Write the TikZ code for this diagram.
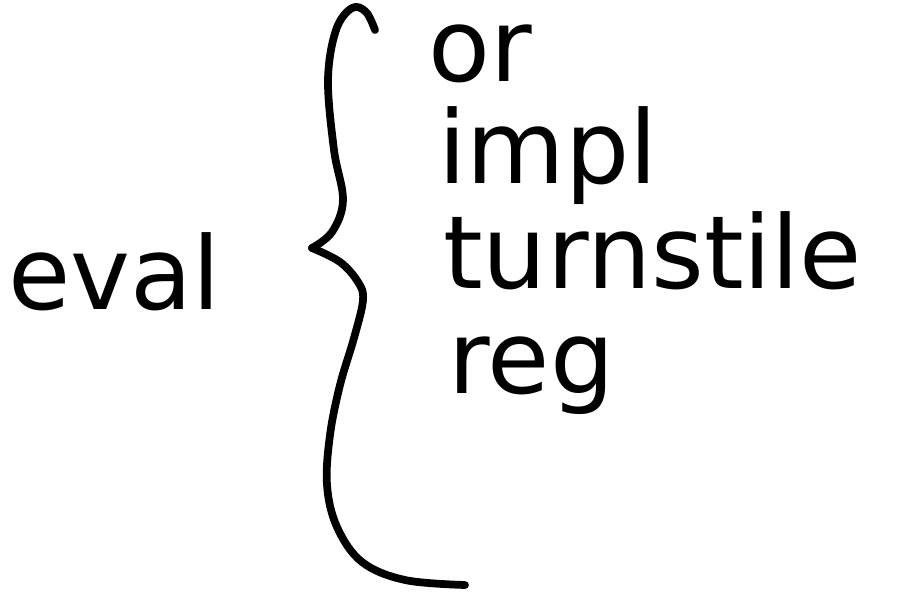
\documentclass[tikz,border=0pt]{standalone}
\usepackage{fontspec}
\setmainfont{DejaVu Sans}
\begin{document}
\begin{tikzpicture}[x=0.025cm,y=-0.025cm,line cap=round,line join=round,
  word/.style={inner sep=0pt,anchor=base west,font=\fontsize{72}{76}\selectfont}]
  \useasboundingbox (0,0) rectangle (898,596);
  \node[word] (eval) at (8,310) {eval};
  \node[word] (or) at (428,82) {or};
  \node[word] (impl) at (438,184) {impl};
  \node[word] (turn) at (443,288) {turnstile};
  \node[word] (reg) at (448,393) {reg};
  % hand drawn brace
  \draw[line width=5.5pt] plot[smooth,tension=.6] coordinates
    {(375,30) (366,12) (352,8) (336,30) (328,80) (334,150) (343,200) (332,232) (312,248)};
  \draw[line width=5.5pt] plot[smooth,tension=.6] coordinates
    {(312,248) (340,262) (358,282) (363,300) (354,338) (340,385) (330,435) (327,485) (337,527) (362,562) (405,580) (465,585)};
\end{tikzpicture}
\end{document}
